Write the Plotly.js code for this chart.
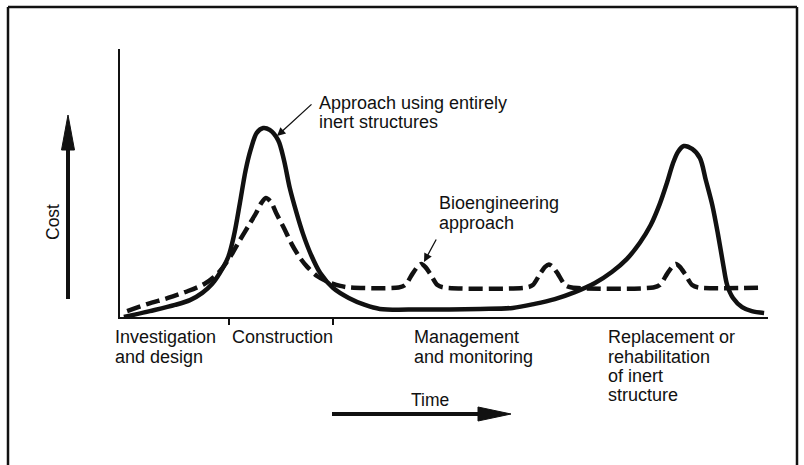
<!DOCTYPE html>
<html>
<head>
<meta charset="utf-8">
<script src="https://cdn.plot.ly/plotly-3.0.1.min.js"></script>
<style>
  html, body { margin: 0; padding: 0; background: #ffffff; }
  #chart { width: 804px; height: 465px; }
</style>
</head>
<body>
<div id="chart"></div>
<script>
// ---- Data (time in arbitrary units 0-100, cost in arbitrary units 0-100) ----
const timeInert = [0.6, 4.6, 8.5, 10.8, 12.7, 14.2, 15.4, 16.7, 17.6, 18.5, 19.4, 20.2, 21.1, 22.1, 23.1, 24.4, 25.3, 26.2, 27.2, 28.2, 29.5, 30.9, 32.9, 35.3, 37.8, 40.1, 46.3, 55.6, 60.6, 64.0, 67.1, 70.2, 73.3, 75.9, 78.2, 80.2, 81.9, 83.3, 84.4, 85.3, 86.1, 87.0, 88.3, 89.5, 90.4, 91.4, 92.3, 93.1, 93.7, 94.6, 96.0, 97.5, 99.4];
const costInert = [0.0, 2.2, 4.5, 6.3, 9.0, 12.3, 16.4, 22.4, 30.6, 42.5, 54.9, 62.7, 68.7, 70.5, 69.8, 66.0, 58.6, 48.1, 39.2, 31.3, 23.1, 16.4, 10.8, 7.1, 4.5, 3.0, 2.8, 3.0, 3.4, 4.9, 6.7, 9.3, 12.7, 16.8, 21.6, 27.6, 34.3, 42.2, 50.0, 57.1, 61.6, 63.8, 62.7, 59.3, 51.1, 41.8, 30.6, 19.4, 11.9, 7.1, 3.7, 2.2, 1.5];

const timeBio = [1.1, 4.3, 7.4, 10.5, 13.0, 14.5, 15.7, 17.1, 18.5, 19.9, 21.0, 21.8, 22.5, 23.3, 24.1, 25.3, 26.5, 27.8, 28.9, 30.4, 32.1, 34.0, 35.5,
  43.0, 44.0, 45.1, 45.9, 46.5, 47.1, 47.9, 49.0, 50.0,
  62.7, 63.7, 64.8, 65.6, 66.2, 66.8, 67.6, 68.7, 69.7,
  82.3, 83.3, 84.4, 85.2, 85.8, 86.4, 87.2, 88.3, 89.3, 99.4];
const costBio = [2.2, 4.9, 7.1, 9.7, 12.3, 14.9, 17.9, 22.8, 28.7, 34.3, 38.8, 42.5, 44.4, 42.9, 38.8, 33.2, 27.2, 22.0, 18.7, 15.3, 13.1, 11.6, 11.0,
  11.0, 11.9, 16.0, 18.7, 19.8, 18.7, 16.0, 11.9, 11.0,
  11.0, 11.9, 16.0, 18.7, 19.6, 18.7, 16.0, 11.9, 11.0,
  11.0, 11.9, 16.0, 18.7, 19.8, 18.7, 16.0, 11.9, 11.0, 11.0];

const phaseTicks = [16.8, 32.9];
const phaseLabels = [
  ["Investigation", "and design"],
  ["Construction"],
  ["Management", "and monitoring"],
  ["Replacement or", "rehabilitation", "of inert", "structure"]
];
const seriesLabels = [["Approach using entirely", "inert structures"], ["Bioengineering", "approach"]];
const axisLabels = { x: "Time", y: "Cost" };

// ---- Layout geometry (pixels) ----
const L = 120, R = 768, T = 49, B = 317;
const W = R - L, H = B - T;
const fx = px => (px - L) / W;
const fy = py => (B - py) / H;

const FONT = { family: "Liberation Sans, Arial, Helvetica, sans-serif", size: 18, color: "#111111" };

const annotations = [];
function addText(text, px, py, opts) {
  annotations.push(Object.assign({
    text: text, xref: "paper", yref: "paper", x: fx(px), y: fy(py),
    xanchor: "left", yanchor: "middle", showarrow: false, font: FONT
  }, opts || {}));
}
function addPointer(tailX, tailY, tipX, tipY) {
  annotations.push({
    text: "", xref: "paper", yref: "paper", x: fx(tipX), y: fy(tipY),
    ax: tailX - tipX, ay: tailY - tipY, axref: "pixel", ayref: "pixel",
    showarrow: true, arrowhead: 2, arrowsize: 1.3, arrowwidth: 1.3, arrowcolor: "#111111"
  });
}

// phase labels
const phaseX = [113, 230, 412, 606];
const lineY = [337, 356.5, 376, 395.5];
phaseLabels.forEach((lines, i) => lines.forEach((t, j) => addText(t, phaseX[i], lineY[j])));

// series labels with pointers
seriesLabels[0].forEach((t, j) => addText(t, 317, 102.5 + 19.5 * j));
addPointer(313, 103, 277, 136);
seriesLabels[1].forEach((t, j) => addText(t, 437, 203 + 19.5 * j));
addPointer(437, 238, 424, 262);

// axis words
addText(axisLabels.x, 430, 400, { xanchor: "center", font: Object.assign({}, FONT, { size: 17.5 }) });
addText(axisLabels.y, 53, 222, { xanchor: "center", textangle: -90, font: Object.assign({}, FONT, { size: 17.5 }) });

// frame + big arrows as shapes
const shapes = [];
function seg(x0, y0, x1, y1, w) {
  shapes.push({ type: "line", xref: "paper", yref: "paper", x0: fx(x0), y0: fy(y0), x1: fx(x1), y1: fy(y1),
    line: { color: "#111111", width: w } });
}
function tri(p) {
  const d = "M" + p.map(q => fx(q[0]) + "," + fy(q[1])).join("L") + "Z";
  shapes.push({ type: "path", xref: "paper", yref: "paper", path: d, fillcolor: "#111111", line: { color: "#111111", width: 1 } });
}
// frame
seg(8, 7, 8, 465, 2.5);
seg(8, 7, 797, 7, 2.5);
seg(797, 7, 797, 465, 2.5);
// cost arrow
seg(68, 299, 68, 146, 4);
tri([[68, 115], [61.5, 150], [74.5, 150]]);
// time arrow
seg(332, 414, 482, 414, 4);
tri([[511, 414], [478, 407], [478, 421]]);

const traces = [
  { x: timeInert, y: costInert, type: "scatter", mode: "lines", name: "Approach using entirely inert structures",
    line: { color: "#111111", width: 4.5, shape: "spline", smoothing: 0.9 }, hoverinfo: "skip" },
  { x: timeBio, y: costBio, type: "scatter", mode: "lines", name: "Bioengineering approach",
    line: { color: "#111111", width: 4.5, dash: "14px,6px", shape: "spline", smoothing: 0.8 }, hoverinfo: "skip" }
];

const layout = {
  width: 804, height: 465,
  margin: { l: L, r: 804 - R, t: T, b: 465 - B, pad: 0 },
  paper_bgcolor: "#ffffff", plot_bgcolor: "#ffffff",
  showlegend: false,
  xaxis: { range: [0, 100], showline: true, linecolor: "#111111", linewidth: 2, showgrid: false, zeroline: false,
    tickmode: "array", tickvals: phaseTicks, ticks: "outside", ticklen: 6, tickwidth: 2, tickcolor: "#111111",
    showticklabels: false, fixedrange: true },
  yaxis: { range: [0, 100], showline: true, linecolor: "#111111", linewidth: 2, showgrid: false, zeroline: false,
    ticks: "", showticklabels: false, fixedrange: true },
  annotations: annotations,
  shapes: shapes,
  font: FONT
};

Plotly.newPlot("chart", traces, layout, { displayModeBar: false, staticPlot: true });
</script>
</body>
</html>
